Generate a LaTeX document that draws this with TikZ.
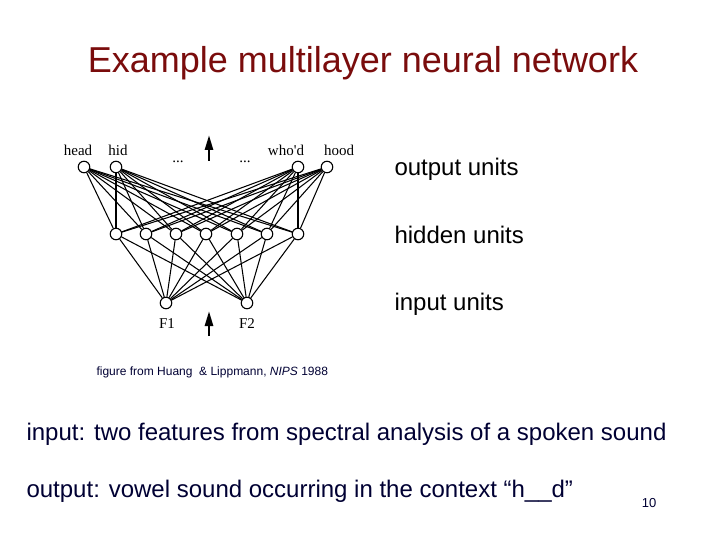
\documentclass[tikz,border=0pt]{standalone}
\usepackage{fontspec}
\setmainfont{Liberation Sans}
\newfontfamily\netfont{Liberation Serif}
\usetikzlibrary{arrows.meta}
\definecolor{titlered}{HTML}{7A0C0C}
\definecolor{textnavy}{HTML}{000033}

\begin{document}
\begin{tikzpicture}[x=1pt, y=-1pt, >={Triangle[length=15pt, width=8pt]},
    unit/.style={circle, draw, line width=1.1pt, fill=white, minimum size=11.5pt, inner sep=0pt},
    netlabel/.style={font=\netfont\fontsize{15}{15}\selectfont},
    bodytext/.style={anchor=west, text=textnavy, font=\fontsize{24}{28}\selectfont}]

    \useasboundingbox (0,0) rectangle (720,540);

    % Title
    \node[text=titlered, font=\fontsize{36}{40}\selectfont] (title) at (363,63) {Example multilayer neural network};

    % Units
    \foreach \x [count=\i] in {84, 116, 298, 327} {
        \node[unit] (out\i) at (\x,167) {};
    }
    \foreach \x [count=\i] in {116, 146, 176, 206, 237, 267, 298} {
        \node[unit] (hid\i) at (\x,234) {};
    }
    \node[unit] (in1) at (166,303) {};
    \node[unit] (in2) at (247,303) {};

    % Weights
    \foreach \i in {1,...,4} {
        \foreach \j in {1,...,7} {
            \draw[line width=1.05pt] (out\i) -- (hid\j);
        }
    }
    \foreach \j in {1,...,7} {
        \draw[line width=1.05pt] (hid\j) -- (in1);
        \draw[line width=1.05pt] (hid\j) -- (in2);
    }

    % Unit labels
    \node[netlabel] (lhead) at (78,150) {head};
    \node[netlabel] (lhid) at (118,150) {hid};
    \node[netlabel] (lwhod) at (286,150) {who'd};
    \node[netlabel] (lhood) at (339,150) {hood};
    \node[netlabel] (dotsA) at (178,162) {...};
    \node[netlabel] (dotsB) at (245,162) {...};
    \node[netlabel] (lF1) at (167,324) {F1};
    \node[netlabel] (lF2) at (247,324) {F2};

    % Flow arrows
    \coordinate (topfrom) at (209,161);
    \coordinate (topto) at (209,135);
    \coordinate (botfrom) at (209,336);
    \coordinate (botto) at (209,311);
    \draw[->, line width=2.6pt] (topfrom) -- (topto);
    \draw[->, line width=2.6pt] (botfrom) -- (botto);

    % Layer names
    \node[bodytext, text=black] (outname) at (391,169) {output units};
    \node[bodytext, text=black] (hidname) at (391,235) {hidden units};
    \node[bodytext, text=black] (inname) at (391,304) {input units};

    % Credit and notes
    \node[anchor=west, text=textnavy, font=\fontsize{12}{14}\selectfont] (credit) at (93,372) {figure from Huang\ \ \& Lippmann, \textit{NIPS} 1988};
    \node[bodytext] (inputnote) at (23,434) {input: two features from spectral analysis of a spoken sound};
    \node[bodytext] (outputnote) at (23,491) {output: vowel sound occurring in the context “h\_\_d”};
    \node[text=textnavy, font=\fontsize{13}{15}\selectfont] (pagenum) at (649,503) {10};

\end{tikzpicture}
\end{document}
